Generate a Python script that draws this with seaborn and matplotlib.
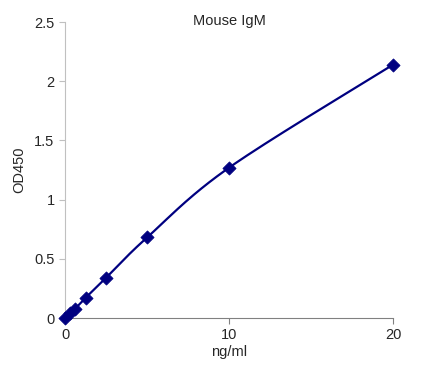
import numpy as np
import matplotlib
matplotlib.use("Agg")
import matplotlib.pyplot as plt
import seaborn as sns

conc = [0, 0.3125, 0.625, 1.25, 2.5, 5, 10, 20]
od450 = [0.0, 0.04, 0.08, 0.17, 0.34, 0.68, 1.27, 2.14]
title = "Mouse IgM"


def smooth_line(x, y, n=40):
    # spreadsheet-style smoothed line (cubic Bezier through the points)
    p = np.column_stack([x, y]).astype(float)
    p = np.vstack([p[0], p, p[-1]])
    out = []
    for i in range(1, len(p) - 2):
        p0, p1, p2, p3 = p[i - 1], p[i], p[i + 1], p[i + 2]
        c1 = p1 + (p2 - p0) / 6
        c2 = p2 - (p3 - p1) / 6
        t = np.linspace(0, 1, n)[:, None]
        seg = ((1 - t) ** 3) * p1 + 3 * ((1 - t) ** 2) * t * c1 \
            + 3 * (1 - t) * t ** 2 * c2 + t ** 3 * p2
        out.append(seg)
    out = np.vstack(out)
    return out[:, 0], out[:, 1]


sns.set_style("white")
plt.rcParams['font.family'] = ['Liberation Sans', 'DejaVu Sans']

fig = plt.figure(figsize=(4.25, 3.67), dpi=100)
ax = fig.add_axes([0.153, 0.1335, 0.772, 0.8065])

xs, ys = smooth_line(conc, od450)
ax.plot(xs, ys, color="#000080", linewidth=1.6)
sns.scatterplot(x=conc, y=od450, ax=ax, marker="D", s=45, color="#000080",
                edgecolor="#000080", zorder=3, clip_on=False)

ax.set_xlim(0, 20)
ax.set_ylim(0, 2.5)
ax.set_xticks([0, 10, 20])
ax.set_yticks([0, 0.5, 1, 1.5, 2, 2.5])
ax.set_yticklabels(["0", "0.5", "1", "1.5", "2", "2.5"])
ax.tick_params(axis="both", direction="out", length=4, width=0.8, labelsize=10.5,
               color="#808080", left=True, bottom=True)
ax.tick_params(axis="y", color="#c0c0c0")
for s in ["top", "right"]:
    ax.spines[s].set_visible(False)
ax.spines["left"].set_color("#c0c0c0")
ax.spines["bottom"].set_color("#808080")
ax.set_xlabel("ng/ml", fontsize=10.5, labelpad=2)
ax.set_ylabel("OD450", fontsize=10.5, labelpad=6)
ax.set_title(title, fontsize=10.5, pad=-2, y=1.0)

fig.savefig("out.png", dpi=100)
